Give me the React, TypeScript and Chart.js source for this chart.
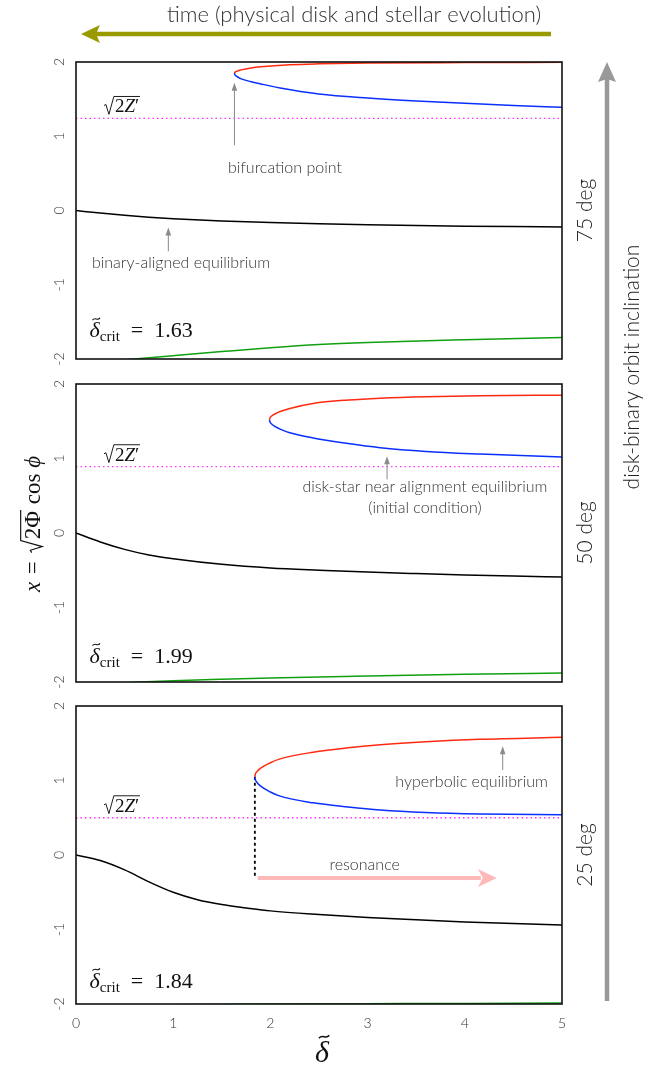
import { useEffect, useRef } from 'react';
import { Chart, registerables } from 'chart.js';

Chart.register(...registerables);

const W = 670;
const H = 1068;
const PLOT_LEFT = 76;
const PLOT_RIGHT = 562;

const X_MIN = 0;
const X_MAX = 5;
const Y_MIN = -2;
const Y_MAX = 2;
const TICK_STEP = 1;

// ---------- Panel 1 : 75 deg ----------
const P1_BLACK_X = [0, 0.25, 0.5, 0.75, 1, 1.5, 2, 2.5, 3, 3.5, 4, 4.5, 5];
const P1_BLACK_Y = [0, -0.035, -0.065, -0.09, -0.11, -0.14, -0.163, -0.18, -0.193, -0.203, -0.211, -0.217, -0.222];
const P1_RED_X = [1.63, 1.635, 1.65, 1.7, 1.8, 1.9, 2.2, 2.5, 3, 4, 5];
const P1_RED_Y = [1.85, 1.862, 1.874, 1.894, 1.919, 1.935, 1.963, 1.975, 1.985, 1.992, 1.996];
const P1_BLUE_X = [1.63, 1.635, 1.65, 1.7, 1.8, 1.9, 2.1, 2.5, 3, 3.5, 4, 4.5, 5];
const P1_BLUE_Y = [1.85, 1.829, 1.809, 1.773, 1.735, 1.705, 1.65, 1.57, 1.515, 1.475, 1.445, 1.415, 1.39];
const P1_GREEN_X = [0, 0.6, 1, 1.5, 2, 2.5, 3, 4, 5];
const P1_GREEN_Y = [-2.06, -2.0, -1.955, -1.9, -1.848, -1.805, -1.777, -1.74, -1.712];
const P1_SQRT2Z = 1.24;
const P1_CRIT = 1.63;

// ---------- Panel 2 : 50 deg ----------
const P2_BLACK_X = [0, 0.25, 0.5, 0.75, 1, 1.5, 2, 2.5, 3, 3.5, 4, 4.5, 5];
const P2_BLACK_Y = [0, -0.12, -0.22, -0.295, -0.345, -0.42, -0.47, -0.5, -0.525, -0.545, -0.563, -0.578, -0.59];
const P2_NOSE_X = [1.99, 1.995, 2.01, 2.05, 2.1, 2.2, 2.44, 2.8, 3.13, 3.6, 4.16, 5];
const P2_RED_Y = [1.52, 1.543, 1.567, 1.601, 1.63, 1.672, 1.738, 1.785, 1.81, 1.83, 1.842, 1.85];
const P2_BLUE_Y = [1.52, 1.493, 1.466, 1.427, 1.394, 1.345, 1.275, 1.2, 1.145, 1.095, 1.06, 1.02];
const P2_GREEN_X = [0, 0.66, 1, 1.5, 2, 3, 4, 5];
const P2_GREEN_Y = [-2.05, -2.0, -1.982, -1.962, -1.945, -1.918, -1.897, -1.88];
const P2_SQRT2Z = 0.89;
const P2_CRIT = 1.99;

// ---------- Panel 3 : 25 deg ----------
const P3_BLACK_X = [0, 0.25, 0.5, 0.75, 1, 1.25, 1.5, 1.75, 2, 2.5, 3, 3.5, 4, 4.5, 5];
const P3_BLACK_Y = [0, -0.075, -0.2, -0.36, -0.5, -0.6, -0.665, -0.71, -0.75, -0.8, -0.84, -0.87, -0.9, -0.92, -0.94];
const P3_NOSE_X = [1.84, 1.843, 1.86, 1.9, 2.0, 2.1, 2.44, 2.8, 3.13, 3.6, 4.16, 5];
const P3_RED_Y = [1.05, 1.076, 1.116, 1.165, 1.238, 1.29, 1.38, 1.44, 1.48, 1.52, 1.553, 1.58];
const P3_BLUE_Y = [1.05, 1.022, 0.978, 0.925, 0.846, 0.79, 0.7, 0.645, 0.605, 0.572, 0.552, 0.54];
const P3_GREEN_X = [0, 2, 3, 4, 5];
const P3_GREEN_Y = [-2.02, -2.0, -1.996, -1.992, -1.987];
const P3_SQRT2Z = 0.5;
const P3_CRIT = 1.84;
const P3_DROP_Y = [1.05, -0.31];
const P3_RESONANCE_X = [1.87, 4.33];
const P3_RESONANCE_Y = -0.31;

const DEG_LABELS = ['75 deg', '50 deg', '25 deg'];
const CRIT_LABEL_Y = [-1.71, -1.745, -1.785];

const SANS = 'Lato, "Open Sans", "DejaVu Sans", sans-serif';
const SERIF = '"Liberation Serif", "DejaVu Serif", serif';

const RED = '#ff2a10';
const BLUE = '#0a30ff';
const GREEN = '#10a010';
const MAGENTA = '#ff33ff';
const TEXT = '#333333';

type Pt = { x: number; y: number };
const zip = (xs: number[], ys: number[]): Pt[] => xs.map((x, i) => ({ x, y: ys[i] }));

type Seg =
  | { t: string; f: string; dy?: number }
  | { rad: Seg[]; s: number }
  | { tilde: Seg; s: number };

function segW(ctx: CanvasRenderingContext2D, seg: Seg): number {
  if ('t' in seg) {
    ctx.font = seg.f;
    return ctx.measureText(seg.t).width;
  }
  if ('rad' in seg) {
    return seg.s * 0.62 + seg.rad.reduce((a, r) => a + segW(ctx, r), 0) + seg.s * 0.04;
  }
  return segW(ctx, seg.tilde);
}

function drawSeg(ctx: CanvasRenderingContext2D, seg: Seg, x: number, y: number): number {
  if ('t' in seg) {
    ctx.font = seg.f;
    ctx.fillText(seg.t, x, y + (seg.dy || 0));
    return ctx.measureText(seg.t).width;
  }
  if ('rad' in seg) {
    const s = seg.s;
    const rw = s * 0.62;
    const innerW = seg.rad.reduce((a, r) => a + segW(ctx, r), 0);
    const top = y - s * 0.84;
    ctx.beginPath();
    ctx.moveTo(x + s * 0.04, y - s * 0.36);
    ctx.lineTo(x + s * 0.14, y - s * 0.42);
    ctx.lineTo(x + s * 0.3, y + s * 0.1);
    ctx.lineTo(x + s * 0.56, top);
    ctx.lineTo(x + rw + innerW + s * 0.04, top);
    ctx.lineWidth = s * 0.05;
    ctx.stroke();
    let cx = x + rw;
    for (const r of seg.rad) cx += drawSeg(ctx, r, cx, y);
    return rw + innerW + s * 0.04;
  }
  const w = drawSeg(ctx, seg.tilde, x, y);
  const s = seg.s;
  const tw = s * 0.34;
  const th = s * 0.05;
  const x0 = x + w / 2 - tw / 2 + s * 0.07;
  const y0 = y - s * 0.84;
  ctx.beginPath();
  ctx.moveTo(x0, y0 + th);
  ctx.bezierCurveTo(x0 + tw * 0.35, y0 - th * 2.4, x0 + tw * 0.65, y0 + th * 2.4, x0 + tw, y0 - th);
  ctx.lineWidth = s * 0.05;
  ctx.stroke();
  return w;
}

function drawSegs(ctx: CanvasRenderingContext2D, segs: Seg[], x: number, y: number, align: 'left' | 'center', color: string) {
  ctx.fillStyle = color;
  ctx.strokeStyle = color;
  ctx.textAlign = 'left';
  ctx.textBaseline = 'alphabetic';
  const total = segs.reduce((a, s) => a + segW(ctx, s), 0);
  let cx = align === 'center' ? x - total / 2 : x;
  for (const s of segs) cx += drawSeg(ctx, s, cx, y);
}

function arrowUp(ctx: CanvasRenderingContext2D, x: number, yFrom: number, yTo: number) {
  ctx.strokeStyle = '#8a8a8a';
  ctx.fillStyle = '#8a8a8a';
  ctx.lineWidth = 1;
  ctx.beginPath();
  ctx.moveTo(x, yFrom);
  ctx.lineTo(x, yTo + 6);
  ctx.stroke();
  ctx.beginPath();
  ctx.moveTo(x, yTo);
  ctx.lineTo(x - 2.8, yTo + 8);
  ctx.lineTo(x + 2.8, yTo + 8);
  ctx.closePath();
  ctx.fill();
}

type Note = { lines: string[]; x: number; y: number };
type Pointer = { x: number; y0: number; y1: number };

interface Panel {
  top: number;
  height: number;
  padTop: number;
  padBottom: number;
  bottom: boolean;
  black: Pt[];
  red: Pt[];
  blue: Pt[];
  green: Pt[];
  sqrtZ: number;
  crit: number;
  critY: number;
  deg: string;
  notes: Note[];
  pointers: Pointer[];
  drop?: boolean;
}

const PANELS: Panel[] = [
  {
    top: 0, height: 372, padTop: 62, padBottom: 13, bottom: false,
    black: zip(P1_BLACK_X, P1_BLACK_Y), red: zip(P1_RED_X, P1_RED_Y), blue: zip(P1_BLUE_X, P1_BLUE_Y),
    green: zip(P1_GREEN_X, P1_GREEN_Y), sqrtZ: P1_SQRT2Z, crit: P1_CRIT, critY: CRIT_LABEL_Y[0], deg: DEG_LABELS[0],
    notes: [
      { lines: ['bifurcation point'], x: 2.15, y: 0.58 },
      { lines: ['binary-aligned equilibrium'], x: 1.08, y: -0.71 },
    ],
    pointers: [
      { x: 1.63, y0: 0.88, y1: 1.72 },
      { x: 0.95, y0: -0.55, y1: -0.23 },
    ],
  },
  {
    top: 372, height: 322, padTop: 12, padBottom: 12, bottom: false,
    black: zip(P2_BLACK_X, P2_BLACK_Y), red: zip(P2_NOSE_X, P2_RED_Y), blue: zip(P2_NOSE_X, P2_BLUE_Y),
    green: zip(P2_GREEN_X, P2_GREEN_Y), sqrtZ: P2_SQRT2Z, crit: P2_CRIT, critY: CRIT_LABEL_Y[1], deg: DEG_LABELS[1],
    notes: [
      { lines: ['disk-star near alignment equilibrium', '(initial condition)'], x: 3.59, y: 0.62 },
    ],
    pointers: [{ x: 3.2, y0: 0.72, y1: 1.03 }],
  },
  {
    top: 694, height: 374, padTop: 12, padBottom: 0, bottom: true,
    black: zip(P3_BLACK_X, P3_BLACK_Y), red: zip(P3_NOSE_X, P3_RED_Y), blue: zip(P3_NOSE_X, P3_BLUE_Y),
    green: zip(P3_GREEN_X, P3_GREEN_Y), sqrtZ: P3_SQRT2Z, crit: P3_CRIT, critY: CRIT_LABEL_Y[2], deg: DEG_LABELS[2],
    notes: [
      { lines: ['hyperbolic equilibrium'], x: 4.07, y: 0.98 },
      { lines: ['resonance'], x: 2.97, y: -0.13 },
    ],
    pointers: [{ x: 4.39, y0: 1.14, y1: 1.46 }],
    drop: true,
  },
];

const curve = (data: Pt[], color: string, extra: any = {}) => ({
  data,
  borderColor: color,
  backgroundColor: color,
  borderWidth: 1.5,
  pointRadius: 0,
  fill: false,
  cubicInterpolationMode: 'monotone',
  ...extra,
});

function panelPlugin(p: Panel) {
  return {
    id: 'panelDecor',
    afterDatasetsDraw(chart: any) {
      const { ctx, chartArea: a, scales } = chart;
      const X = (v: number) => scales.x.getPixelForValue(v);
      const Y = (v: number) => scales.y.getPixelForValue(v);
      ctx.save();

      if (p.drop) {
        const yR = Y(P3_RESONANCE_Y);
        const x0 = X(P3_RESONANCE_X[0]);
        const x1 = X(P3_RESONANCE_X[1]);
        ctx.strokeStyle = '#ffb9b9';
        ctx.fillStyle = '#ffb9b9';
        ctx.lineWidth = 4;
        ctx.beginPath();
        ctx.moveTo(x0, yR);
        ctx.lineTo(x1 - 16, yR);
        ctx.stroke();
        ctx.beginPath();
        ctx.moveTo(x1, yR);
        ctx.lineTo(x1 - 19, yR - 9);
        ctx.lineTo(x1 - 14, yR);
        ctx.lineTo(x1 - 19, yR + 9);
        ctx.closePath();
        ctx.fill();
      }

      // frame
      ctx.strokeStyle = '#111';
      ctx.lineWidth = 1.6;
      ctx.strokeRect(a.left, a.top, a.right - a.left, a.bottom - a.top);

      // notes
      ctx.fillStyle = TEXT;
      ctx.textAlign = 'center';
      ctx.textBaseline = 'middle';
      ctx.font = `300 16px ${SANS}`;
      for (const n of p.notes) {
        n.lines.forEach((l, i) => ctx.fillText(l, X(n.x), Y(n.y) + i * 21));
      }
      for (const q of p.pointers) arrowUp(ctx, X(q.x), Y(q.y0), Y(q.y1));

      // sqrt(2Z') label
      const s1 = 19;
      drawSegs(ctx, [
        { rad: [
          { t: '2', f: `${s1}px ${SERIF}` },
          { t: 'Z', f: `italic ${s1}px ${SERIF}` },
          { t: '\u2032', f: `${s1}px ${SERIF}` },
        ], s: s1 },
      ], X(0.28), Y(p.sqrtZ) - 6, 'left', '#111');

      // delta crit label
      const s2 = 22;
      drawSegs(ctx, [
        { tilde: { t: '\u03b4', f: `italic ${s2}px ${SERIF}` }, s: s2 },
        { t: 'crit', f: `15px ${SERIF}`, dy: 4 },
        { t: '\u2002=\u2002' + p.crit.toFixed(2), f: `${s2}px ${SERIF}` },
      ], X(0.14), Y(p.critY), 'left', '#111');

      // deg label on the right
      ctx.save();
      ctx.translate(a.right + 23, (a.top + a.bottom) / 2);
      ctx.rotate(-Math.PI / 2);
      ctx.fillStyle = '#222';
      ctx.font = `300 21px ${SANS}`;
      ctx.textAlign = 'center';
      ctx.textBaseline = 'middle';
      ctx.fillText(p.deg, 0, 0);
      ctx.restore();

      ctx.restore();
    },
  };
}

function makeChart(canvas: HTMLCanvasElement, p: Panel) {
  const datasets: any[] = [
    curve([{ x: X_MIN, y: p.sqrtZ }, { x: X_MAX, y: p.sqrtZ }], MAGENTA, { borderDash: [1.5, 3], borderWidth: 1.3, cubicInterpolationMode: 'default', tension: 0 }),
    curve(p.green, GREEN),
    curve(p.black, '#000000'),
    curve(p.blue, BLUE),
    curve(p.red, RED),
  ];
  if (p.drop) {
    datasets.push(curve([{ x: p.crit, y: P3_DROP_Y[0] }, { x: p.crit, y: P3_DROP_Y[1] }], '#000000', {
      borderDash: [3, 3], borderWidth: 1.8, cubicInterpolationMode: 'default', tension: 0,
    }));
  }
  return new Chart(canvas, {
    type: 'line',
    data: { datasets },
    options: {
      animation: false,
      responsive: false,
      devicePixelRatio: 1,
      events: [],
      layout: { padding: { top: p.padTop, bottom: p.padBottom, left: 0, right: W - PLOT_RIGHT } },
      plugins: { legend: { display: false }, tooltip: { enabled: false } },
      scales: {
        x: {
          type: 'linear',
          min: X_MIN,
          max: X_MAX,
          display: p.bottom,
          grid: { display: false, drawTicks: false },
          border: { display: false },
          ticks: { stepSize: TICK_STEP, padding: 11, color: TEXT, font: { family: SANS, size: 14, weight: '300' } },
          afterFit: (s: any) => {
            s.height = p.bottom ? 64 : 0;
            s.paddingLeft = 0;
            s.paddingRight = 0;
          },
        },
        y: {
          type: 'linear',
          min: Y_MIN,
          max: Y_MAX,
          grid: { display: false, drawTicks: false },
          border: { display: false },
          ticks: {
            stepSize: TICK_STEP,
            autoSkip: false,
            minRotation: 90,
            maxRotation: 90,
            crossAlign: 'center',
            padding: 10,
            color: TEXT,
            font: { family: SANS, size: 14, weight: '300' },
          },
          afterFit: (s: any) => {
            s.width = PLOT_LEFT;
            s.paddingTop = 0;
            s.paddingBottom = 0;
          },
        },
      },
    } as any,
    plugins: [panelPlugin(p)],
  });
}

function drawOverlay(ctx: CanvasRenderingContext2D) {
  ctx.clearRect(0, 0, W, H);
  // top: time arrow
  ctx.fillStyle = '#333';
  ctx.font = `300 22px ${SANS}`;
  ctx.textAlign = 'center';
  ctx.textBaseline = 'alphabetic';
  ctx.fillText('time (physical disk and stellar evolution)', 354, 22);
  ctx.strokeStyle = '#999900';
  ctx.fillStyle = '#999900';
  ctx.lineWidth = 4.5;
  ctx.beginPath();
  ctx.moveTo(551, 34);
  ctx.lineTo(96, 34);
  ctx.stroke();
  ctx.beginPath();
  ctx.moveTo(81, 34);
  ctx.lineTo(100, 25);
  ctx.lineTo(96, 34);
  ctx.lineTo(100, 43);
  ctx.closePath();
  ctx.fill();

  // right: inclination arrow
  ctx.strokeStyle = '#999999';
  ctx.fillStyle = '#999999';
  ctx.lineWidth = 4.5;
  ctx.beginPath();
  ctx.moveTo(607, 1001);
  ctx.lineTo(607, 78);
  ctx.stroke();
  ctx.beginPath();
  ctx.moveTo(607, 62);
  ctx.lineTo(598, 82);
  ctx.lineTo(607, 79);
  ctx.lineTo(616, 82);
  ctx.closePath();
  ctx.fill();

  ctx.save();
  ctx.translate(632, 367);
  ctx.rotate(-Math.PI / 2);
  ctx.fillStyle = '#222';
  ctx.font = `300 21px ${SANS}`;
  ctx.textAlign = 'center';
  ctx.textBaseline = 'middle';
  ctx.fillText('disk-binary orbit inclination', 0, 0);
  ctx.restore();

  // left y-axis label
  ctx.save();
  ctx.translate(40, 524);
  ctx.rotate(-Math.PI / 2);
  const s = 23;
  drawSegs(ctx, [
    { t: 'x', f: `italic ${s}px ${SERIF}` },
    { t: '\u2004=\u2004', f: `${s}px ${SERIF}` },
    { rad: [{ t: '2\u03a6', f: `${s}px ${SERIF}` }], s },
    { t: ' cos ', f: `${s}px ${SERIF}` },
    { t: '\u03d5', f: `italic ${s}px ${SERIF}` },
  ], 0, 0, 'center', '#111');
  ctx.restore();

  // x title
  const st = 30;
  drawSegs(ctx, [{ tilde: { t: '\u03b4', f: `italic ${st}px ${SERIF}` }, s: st }], 322, 1062, 'center', '#111');
}

export default function App() {
  const refs = [useRef<HTMLCanvasElement>(null), useRef<HTMLCanvasElement>(null), useRef<HTMLCanvasElement>(null)];
  const overlay = useRef<HTMLCanvasElement>(null);

  useEffect(() => {
    const charts = PANELS.map((p, i) => makeChart(refs[i].current as HTMLCanvasElement, p));
    const ctx = overlay.current?.getContext('2d');
    if (ctx) drawOverlay(ctx);
    return () => charts.forEach((c) => c.destroy());
  }, []);

  return (
    <div style={{ position: 'absolute', left: 0, top: 0, width: W, height: H, background: '#fff' }}>
      {PANELS.map((p, i) => (
        <canvas
          key={i}
          ref={refs[i]}
          width={W}
          height={p.height}
          style={{ position: 'absolute', left: 0, top: p.top, width: W, height: p.height, display: 'block' }}
        />
      ))}
      <canvas
        ref={overlay}
        width={W}
        height={H}
        style={{ position: 'absolute', left: 0, top: 0, width: W, height: H, pointerEvents: 'none' }}
      />
    </div>
  );
}
